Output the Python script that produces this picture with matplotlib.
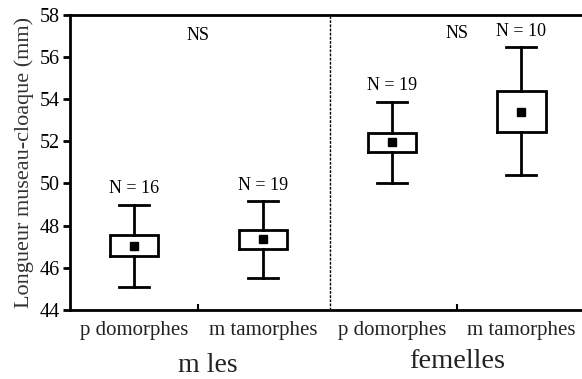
import numpy as np
import matplotlib
matplotlib.use('Agg')
import matplotlib.pyplot as plt

plt.rcParams['font.family'] = ['Liberation Serif', 'DejaVu Serif']

# Données
categories = ['p domorphes', 'm tamorphes', 'p domorphes', 'm tamorphes']
groupes = ['m les', 'femelles']
moyennes = [47.05, 47.35, 51.95, 53.41]
q_bas = [46.56, 46.90, 51.49, 52.46]
q_haut = [47.55, 47.78, 52.38, 54.40]
min_val = [45.10, 45.50, 50.02, 50.40]
max_val = [48.99, 49.17, 53.88, 56.46]
effectifs = [16, 19, 19, 10]

positions = np.arange(1, 5)

stats = []
for i in range(4):
    stats.append(dict(med=moyennes[i], mean=moyennes[i], q1=q_bas[i], q3=q_haut[i],
                      whislo=min_val[i], whishi=max_val[i], fliers=[]))

fig = plt.figure(figsize=(5.82, 3.79), dpi=100)
ax = fig.add_axes([0.12, 0.182, 0.88, 0.779])

ax.bxp(stats, positions=positions, widths=0.375, showmeans=True, patch_artist=False,
       boxprops=dict(color='black', linewidth=2, solid_joinstyle='miter'),
       whiskerprops=dict(color='black', linewidth=2),
       capprops=dict(color='black', linewidth=2),
       capwidths=0.23,
       medianprops=dict(visible=False),
       meanprops=dict(marker='s', markerfacecolor='black', markeredgecolor='black', markersize=5.5))

ax.set_xlim(0.504, 4.47)
ax.set_ylim(44, 58)
ax.set_yticks(np.arange(44, 59, 2))

# séparation mâles / femelles
ax.axvline(2.52, color='black', linestyle=(0, (2, 1)), linewidth=1)

# effectifs
for i in range(4):
    ax.text(positions[i], max_val[i] + 0.35, 'N = %d' % effectifs[i], ha='center', va='bottom', fontsize=13)
ax.text(1.5, 57.0, 'NS', ha='center', va='center', fontsize=13)
ax.text(3.5, 57.1, 'NS', ha='center', va='center', fontsize=13)

ax.set_xticks(positions)
ax.set_xticklabels(categories, fontsize=15, color='#222222')
ax.set_xticks([1.5, 3.5], minor=True)
ax.tick_params(axis='x', which='major', length=0, pad=8)
ax.tick_params(axis='x', which='minor', direction='in', length=4, width=1.5)
ax.tick_params(axis='y', direction='out', length=5, width=2, labelsize=14.5, pad=2)

for s in ['left', 'bottom', 'top']:
    ax.spines[s].set_linewidth(2)
ax.spines['right'].set_visible(False)

ax.set_ylabel('Longueur museau-cloaque (mm)', fontsize=16, color='#333333', labelpad=4)

ax.text(1.57, -0.187, groupes[0], transform=ax.get_xaxis_transform(), ha='center', va='center',
        fontsize=20, color='#222222')
ax.text(3.5, -0.176, groupes[1], transform=ax.get_xaxis_transform(), ha='center', va='center',
        fontsize=20.5, color='#222222')

plt.savefig('out.png', dpi=100)
